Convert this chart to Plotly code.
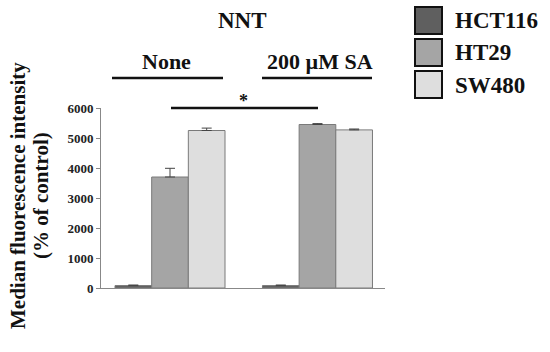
import plotly.graph_objects as go

# ---- data ----
conditions = ["None", "200 µM SA"]
series_names = ["HCT116", "HT29", "SW480"]
values = {
    "HCT116": [80, 80],
    "HT29": [3700, 5450],
    "SW480": [5250, 5270],
}
errors = {
    "HCT116": [20, 20],
    "HT29": [290, 30],
    "SW480": [80, 30],
}
colors = {"HCT116": "#5f5f5f", "HT29": "#a5a5a5", "SW480": "#dedede"}
y_ticks = [0, 1000, 2000, 3000, 4000, 5000, 6000]

FONT = "Liberation Serif"
W, H = 550, 352
L, R, T, B = 101, 165, 108, 64
PW, PH = W - L - R, H - T - B


def px(x):
    return (x - L) / PW


def py(y):
    return (H - B - y) / PH


fig = go.Figure()
for s in series_names:
    fig.add_trace(go.Bar(
        name=s, x=conditions, y=values[s],
        marker=dict(color=colors[s], line=dict(color="#7a7a7a", width=1)),
        error_y=dict(type="data", symmetric=False, array=errors[s],
                     arrayminus=[0] * len(conditions),
                     color="#444444", thickness=1, width=5),
        showlegend=False,
    ))

fig.update_layout(
    width=W, height=H,
    margin=dict(l=L, r=R, t=T, b=B, pad=0),
    barmode="group", bargap=0.254, bargroupgap=0,
    plot_bgcolor="white", paper_bgcolor="white",
    font=dict(family=FONT, color="#111111"),
    xaxis=dict(range=[-0.468, 1.458], showticklabels=False, ticks="",
               showline=True, linecolor="#888888", linewidth=1,
               showgrid=False, zeroline=False),
    yaxis=dict(range=[0, 6000], tickvals=y_ticks, ticks="outside", ticklen=4,
               tickcolor="#888888", showline=True, linecolor="#888888",
               linewidth=1, showgrid=False, zeroline=False,
               tickfont=dict(family=FONT, size=13, weight="bold", color="#222222")),
)

# y-axis title (two lines)
for txt, cx in [("Median fluorescence intensity", 18), ("(% of control)", 41)]:
    fig.add_annotation(
        text=txt, xref="paper", yref="paper", x=px(cx), y=py(196),
        xanchor="center", yanchor="middle", textangle=-90, showarrow=False,
        font=dict(family=FONT, size=21, weight="bold", color="#111111"),
    )

# titles and group labels
for txt, cx, cy, sz in [("NNT", 242, 21, 23), ("None", 166, 61, 22),
                        ("200 µM SA", 320, 61, 22), ("*", 243, 101, 18)]:
    fig.add_annotation(text=txt, xref="paper", yref="paper", x=px(cx), y=py(cy),
                       xanchor="center", yanchor="middle", showarrow=False,
                       font=dict(family=FONT, size=sz, weight="bold", color="#111111"))

for x0, x1, yy in [(112, 223, 78), (262, 372, 78), (171, 318, 108)]:
    fig.add_shape(type="line", xref="paper", yref="paper",
                  x0=px(x0), x1=px(x1), y0=py(yy), y1=py(yy),
                  line=dict(color="#111111", width=2.5))

# legend drawn manually
box_tops = [7, 39, 71]
for s, top in zip(series_names, box_tops):
    fig.add_shape(type="rect", xref="paper", yref="paper",
                  x0=px(415), x1=px(442), y0=py(top), y1=py(top + 27),
                  fillcolor=colors[s], line=dict(color="#111111", width=2))
    fig.add_annotation(text=s, xref="paper", yref="paper", x=px(453), y=py(top + 14),
                       xanchor="left", yanchor="middle", showarrow=False,
                       font=dict(family=FONT, size=23, weight="bold", color="#111111"))

fig.write_html("out.html", config={"displayModeBar": False},
               post_script="document.body.style.margin='0';document.body.style.overflow='hidden';")
